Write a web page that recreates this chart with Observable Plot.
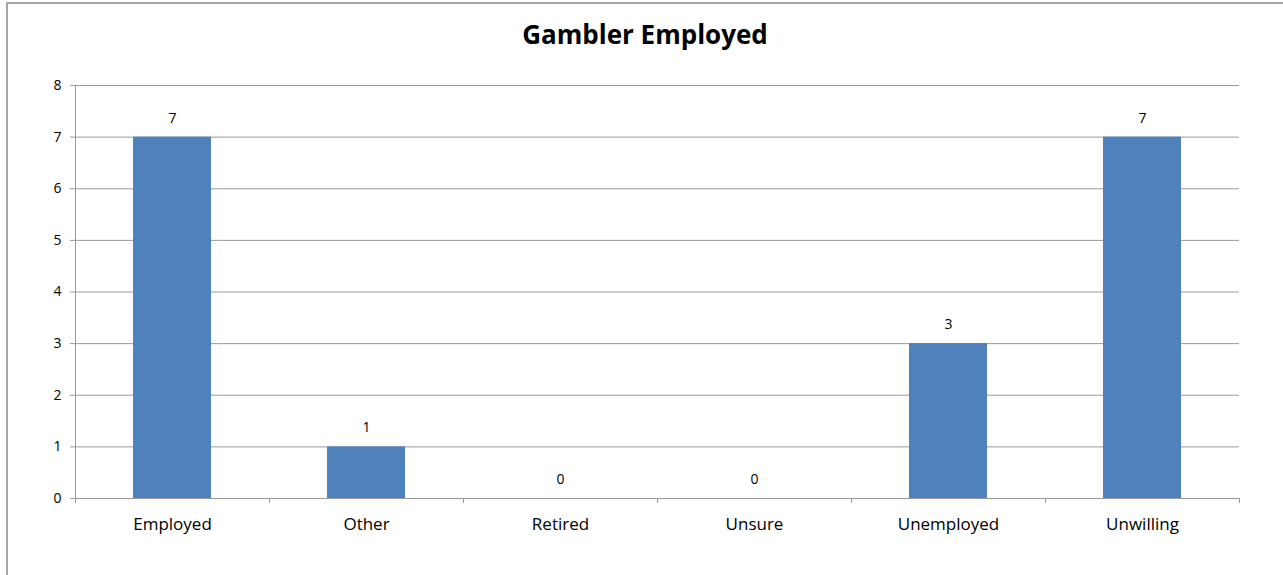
<!DOCTYPE html>
<html>
<head>
<meta charset="utf-8">
<script src="https://cdn.jsdelivr.net/npm/d3@7"></script>
<script src="https://cdn.jsdelivr.net/npm/@observablehq/plot@0.6"></script>
<style>
  html, body { margin: 0; padding: 0; background: #fff; overflow: hidden; }
  #wrap { position: relative; width: 1283px; height: 575px; }
  #frame { position: absolute; left: 6px; top: 2px; width: 1400px; height: 700px; border: 2px solid #a6a6a6; box-sizing: border-box; }
  #title { position: absolute; left: 0; top: 16px; width: 1290px; text-align: center; font-family: "Open Sans", sans-serif; font-weight: bold; font-size: 26px; color: #000; }
  #chart { position: absolute; left: 0; top: 0; }
</style>
</head>
<body>
<div id="wrap">
  <div id="frame"></div>
  <div id="title">Gambler Employed</div>
  <div id="chart"></div>
</div>
<script>
const categories = ["Employed", "Other", "Retired", "Unsure", "Unemployed", "Unwilling"];
const counts = [7, 1, 0, 0, 3, 7];
const yTicks = [0, 1, 2, 3, 4, 5, 6, 7, 8];

const data = categories.map((c, i) => ({category: c, count: counts[i]}));

const W = 1283, H = 575, ML = 75, MR = 44, MT = 85, MB = 77;
const step = (W - ML - MR) / categories.length;
const axisGray = "#9a9a9a";

const chart = Plot.plot({
  width: W,
  height: H,
  marginLeft: ML,
  marginRight: MR,
  marginTop: MT,
  marginBottom: MB,
  style: {fontFamily: "Open Sans, sans-serif", fontSize: "14px", color: "#000", background: "transparent"},
  x: {type: "band", domain: categories, paddingInner: 0.6, paddingOuter: 0.3, label: null},
  y: {type: "linear", domain: [0, 8], ticks: yTicks, label: null},
  marks: [
    Plot.gridY(yTicks, {stroke: axisGray, strokeOpacity: 1, strokeWidth: 1}),
    Plot.barY(data, {x: "category", y: "count", fill: "#4F81BD"}),
    Plot.ruleY([0], {stroke: axisGray, strokeWidth: 1}),
    // y-axis line at the left edge of the first band
    Plot.ruleX([categories[0]], {dx: -step / 2, y1: 0, y2: 8, stroke: axisGray, strokeWidth: 1}),
    // category boundary ticks below the axis
    Plot.ruleX(categories, {dx: -step / 2, y1: 0, y2: 0, insetBottom: -5, stroke: axisGray, strokeWidth: 1}),
    Plot.ruleX([categories[categories.length - 1]], {dx: step / 2, y1: 0, y2: 0, insetBottom: -5, stroke: axisGray, strokeWidth: 1}),
    Plot.axisY(yTicks, {tickSize: 5, tickPadding: 9, tickFormat: d3.format("d"), stroke: axisGray, fontSize: 14, fill: "#000"}),
    Plot.axisX({tickSize: 0, tickPadding: 19, fontSize: 17, fill: "#000"}),
    Plot.text(data, {x: "category", y: "count", text: d => String(d.count), dy: -19, fontSize: 14, fill: "#000"})
  ]
});
document.getElementById("chart").appendChild(chart);
</script>
</body>
</html>
